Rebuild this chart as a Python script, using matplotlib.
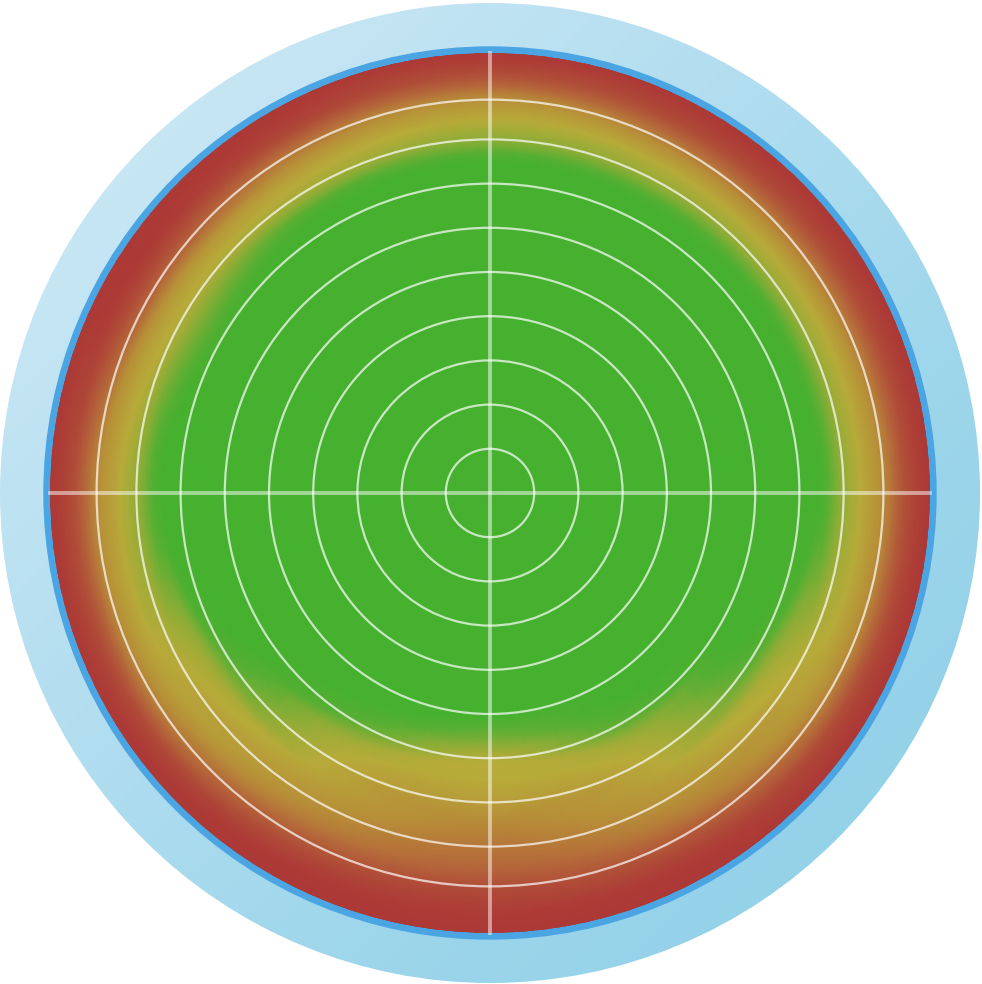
import numpy as np
import matplotlib
matplotlib.use("Agg")
import matplotlib.pyplot as plt
import matplotlib.tri as mtri
from matplotlib.colors import LinearSegmentedColormap
from matplotlib.patches import Circle

# sample directions (deg, counter-clockwise from east) and radii (grid units)
angles = [0, 30, 60, 90, 120, 150, 180, 210, 240, 270, 300, 330, 360]
radii = [0, 2.5, 5, 5.5, 6, 6.5, 7, 7.5, 8, 8.5, 9, 9.5, 10, 10.5]
# 0 = green, 0.5 = yellow, 0.75 = orange, 1 = red
v000 = [0, 0, 0, 0, 0, 0, 0, 0.02, 0.33, 0.52, 0.66, 0.88, 1, 1]
v030 = [0, 0, 0, 0, 0, 0, 0, 0.04, 0.35, 0.53, 0.70, 0.90, 1, 1]
v060 = [0, 0, 0, 0, 0, 0, 0, 0.04, 0.35, 0.53, 0.70, 0.90, 1, 1]
v090 = [0, 0, 0, 0, 0, 0, 0, 0.00, 0.30, 0.50, 0.64, 0.86, 1, 1]
v120 = [0, 0, 0, 0, 0, 0, 0, 0.05, 0.40, 0.55, 0.72, 0.93, 1, 1]
v150 = [0, 0, 0, 0, 0, 0, 0.02, 0.20, 0.45, 0.58, 0.80, 0.97, 1, 1]
v180 = [0, 0, 0, 0, 0, 0, 0, 0.02, 0.33, 0.52, 0.66, 0.88, 1, 1]
v210 = [0, 0, 0, 0, 0, 0, 0.10, 0.40, 0.50, 0.55, 0.68, 0.90, 1, 1]
v240 = [0, 0, 0, 0.02, 0.15, 0.42, 0.50, 0.54, 0.60, 0.68, 0.82, 0.96, 1, 1]
v270 = [0, 0, 0, 0.20, 0.46, 0.50, 0.56, 0.64, 0.70, 0.76, 0.88, 0.97, 1, 1]
v300 = [0, 0, 0, 0.02, 0.15, 0.42, 0.50, 0.54, 0.60, 0.68, 0.82, 0.96, 1, 1]
v330 = [0, 0, 0, 0, 0, 0, 0.10, 0.40, 0.50, 0.55, 0.68, 0.90, 1, 1]
rows = [v000, v030, v060, v090, v120, v150, v180, v210, v240, v270, v300, v330, v000]

rings = [1, 2, 3, 4, 5, 6, 7, 8, 8.9]
R_HEAT = 9.95

U = 44.2  # px per unit
fig = plt.figure(figsize=(9.82, 9.84), dpi=100)
ax = fig.add_axes([0, 0, 1, 1])
ax.set_xlim(-490 / U, 492 / U)
ax.set_ylim(-491 / U, 493 / U)
ax.axis("off")

# bezel
R_OUT = 490 / U
bez = Circle((0, 0), R_OUT, transform=ax.transData)
gx, gy = np.meshgrid(np.linspace(-1, 1, 300), np.linspace(-1, 1, 300))
bcmap = LinearSegmentedColormap.from_list("bz", ["#d3ebf6", "#b8e0f1", "#9ed6eb", "#8ccfe7"])
im = ax.imshow(gx - gy, extent=[-R_OUT, R_OUT, -R_OUT, R_OUT], origin="lower",
               cmap=bcmap, interpolation="bilinear", zorder=1)
im.set_clip_path(bez)
ax.add_patch(Circle((0, 0), 446 / U, color="#4ba5e3", zorder=2))

# heat map: interpolate on the (angle, radius) grid, then place it on the disc
A, R = np.meshgrid(angles, radii, indexing="ij")
Z = np.array(rows, dtype=float)
grid = mtri.Triangulation((A / 60.0).ravel(), R.ravel())
refiner = mtri.UniformTriRefiner(grid)
interp = mtri.CubicTriInterpolator(grid, Z.ravel(), kind="geom")
fine, zf = refiner.refine_field(Z.ravel(), triinterpolator=interp, subdiv=4)
th = np.deg2rad(fine.x * 60.0)
disc = mtri.Triangulation(fine.y * np.cos(th) * R_HEAT / 10,
                          fine.y * np.sin(th) * R_HEAT / 10, fine.triangles)

hcmap = LinearSegmentedColormap.from_list("heat", [
    (0.0, "#46b02f"), (0.12, "#56af33"), (0.3, "#88ad36"), (0.5, "#b7ab39"),
    (0.62, "#b79038"), (0.75, "#b5693a"), (0.88, "#b04c38"), (1.0, "#ac3936")])
tp = ax.tripcolor(disc, zf, shading="gouraud", cmap=hcmap, vmin=0, vmax=1, zorder=3)
tp.set_clip_path(Circle((0, 0), R_HEAT, transform=ax.transData))

# grid
for r in rings:
    ax.add_patch(Circle((0, 0), r, fill=False, ec="white", lw=1.6, alpha=0.7, zorder=4))
ax.plot([-R_HEAT, R_HEAT], [0, 0], color="white", lw=2.8, alpha=0.5, zorder=4)
ax.plot([0, 0], [-R_HEAT, R_HEAT], color="white", lw=2.8, alpha=0.5, zorder=4)

fig.savefig("out.png", dpi=100)
